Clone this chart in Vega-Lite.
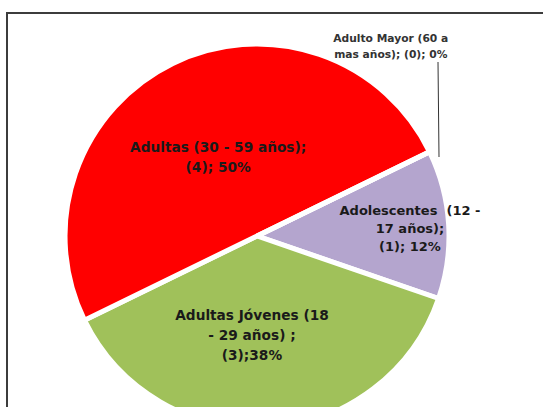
{
  "$schema": "https://vega.github.io/schema/vega-lite/v6.json",
  "width": 536,
  "height": 394,
  "autosize": "none",
  "padding": {"left": 7, "top": 13, "right": 0, "bottom": 0},
  "background": "white",
  "view": {"stroke": "#3c3c3c", "strokeWidth": 2, "strokeDash": [537, 929, 400, 0]},
  "data": {"values": [
    {"grupo": "Adolescentes", "label": "Adolescentes \u00a0(12 -\n17 años);\n(1); 12%", "n": 1, "orden": 1},
    {"grupo": "Adultas Jóvenes", "label": "Adultas Jóvenes (18\n- 29 años) ;\n(3);38%", "n": 3, "orden": 2},
    {"grupo": "Adultas", "label": "Adultas (30 - 59 años);\n(4); 50%", "n": 4, "orden": 3},
    {"grupo": "Adulto Mayor", "label": "Adulto Mayor (60 a\nmas años); (0); 0%", "n": 0, "orden": 4}
  ]},
  "encoding": {
    "theta": {"field": "n", "type": "quantitative", "stack": true, "scale": {"range": [1.117, 7.4]}},
    "order": {"field": "orden", "type": "quantitative", "sort": "ascending"}
  },
  "layer": [
    {
      "mark": {"type": "arc", "outerRadius": 192, "stroke": "white", "strokeWidth": 5,
               "x": {"expr": "width/2 - 18"}, "y": {"expr": "height/2 + 26"}},
      "encoding": {
        "color": {"field": "grupo", "type": "nominal",
                  "scale": {"domain": ["Adolescentes", "Adultas Jóvenes", "Adultas", "Adulto Mayor"],
                            "range": ["#B4A5CE", "#A0C15A", "#FF0000", "#4BACC6"]},
                  "legend": null}
      }
    },
    {
      "mark": {"type": "text", "radius": 96, "thetaOffset": 0.037, "font": "DejaVu Sans", "fontWeight": "bold", "fontSize": 13.7,
               "lineBreak": "\n", "lineHeight": 20, "color": "#1a1a1a",
               "x": {"expr": "width/2 - 18"}, "y": {"expr": "height/2 + 26"}},
      "encoding": {"text": {"condition": {"test": "datum.grupo === 'Adultas'", "field": "label", "type": "nominal"}, "value": ""}}
    },
    {
      "mark": {"type": "text", "radius": 80, "thetaOffset": 0.124, "font": "DejaVu Sans", "fontWeight": "bold", "fontSize": 13.7,
               "lineBreak": "\n", "lineHeight": 20, "color": "#1a1a1a",
               "x": {"expr": "width/2 - 18"}, "y": {"expr": "height/2 + 26"}},
      "encoding": {"text": {"condition": {"test": "datum.grupo === 'Adultas Jóvenes'", "field": "label", "type": "nominal"}, "value": ""}}
    },
    {
      "mark": {"type": "text", "radius": 155, "thetaOffset": -0.101, "font": "DejaVu Sans", "fontWeight": "bold", "fontSize": 13,
               "lineBreak": "\n", "lineHeight": 18, "color": "#1a1a1a",
               "x": {"expr": "width/2 - 18"}, "y": {"expr": "height/2 + 26"}},
      "encoding": {"text": {"condition": {"test": "datum.grupo === 'Adolescentes'", "field": "label", "type": "nominal"}, "value": ""}}
    },
    {
      "mark": {"type": "text", "radius": 238, "thetaOffset": -0.52, "font": "DejaVu Sans", "fontWeight": "bold", "fontSize": 10.7,
               "lineBreak": "\n", "lineHeight": 16, "color": "#333333",
               "x": {"expr": "width/2 - 18"}, "y": {"expr": "height/2 + 26"}},
      "encoding": {"text": {"condition": {"test": "datum.grupo === 'Adulto Mayor'", "field": "label", "type": "nominal"}, "value": ""}}
    },
    {
      "data": {"values": [{"grupo": "Adulto Mayor"}]},
      "mark": {"type": "rule", "color": "#333333", "strokeWidth": 1},
      "encoding": {
        "x": {"value": 431}, "y": {"value": 49},
        "x2": {"value": 432}, "y2": {"value": 144}
      }
    }
  ]
}
